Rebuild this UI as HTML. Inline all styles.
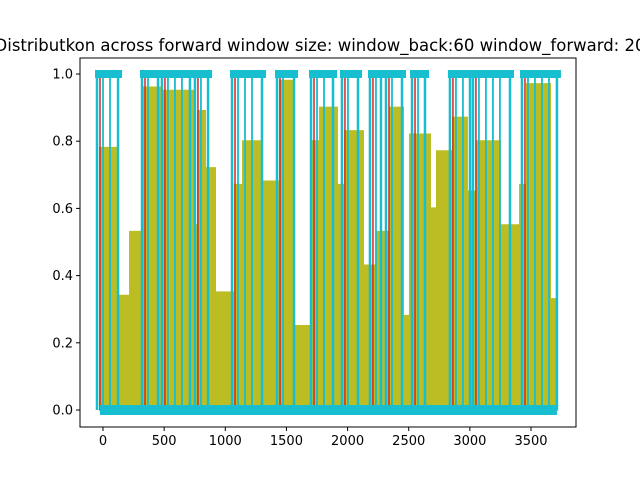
<!DOCTYPE html>
<html><head><meta charset="utf-8"><style>
body{margin:0;background:#fff;}
svg{display:block;font-family:"DejaVu Sans","Liberation Sans",sans-serif;}
</style></head><body>
<svg id="chart" width="640" height="480">
<rect width="640" height="480" fill="#fff"/>
<text x="320" y="51" font-size="16.5" text-anchor="middle">Distributkon across forward window size: window_back:60 window_forward: 20</text>
<g id="plot"></g>
<g id="axes"></g>
</svg>
<script>
const oliveX=[-25,114,221,303,327,466,491,736,777,834,916,1079,1145,1300,1447,1554,1717,1774,1913,1979,2126,2240,2347,2453,2510,2674,2731,2862,2976,3058,3246,3410,3467,3655,3712];
const oliveY=[0.78,0.34,0.53,0.2,0.96,0.52,0.95,0.55,0.89,0.72,0.35,0.67,0.8,0.68,0.98,0.25,0.8,0.9,0.67,0.83,0.43,0.53,0.9,0.28,0.82,0.6,0.77,0.87,0.65,0.8,0.55,0.67,0.97,0.33];
const pulseStart=[-49,319,482,752,1055,1423,1701,1954,2183,2314,2527,2837,3025,3426];
const pulseEnd=[123,450,711,859,1300,1562,1881,2085,2273,2445,2633,3001,3328,3712];
const xTicks=[0,500,1000,1500,2000,2500,3000,3500];
const yTicks=[0.0,0.2,0.4,0.6,0.8,1.0];
const L=80,R=576,T=58,B=427;
const X=v=>103+v*0.12229;
const Y=v=>410-v*336;
const NS="http://www.w3.org/2000/svg";
const plot=document.getElementById('plot'),axes=document.getElementById('axes');
function mk(tag,at,parent){const e=document.createElementNS(NS,tag);for(const k in at)e.setAttribute(k,at[k]);parent.appendChild(e);return e;}
let pk=mk('rect',{x:X(-20),y:Y(0.08),width:X(3700)-X(-20),height:Y(0)-Y(0.08),fill:'#e377c2',opacity:0.55},plot);


let d='M'+X(oliveX[0])+' '+Y(0);
for(let i=0;i<oliveY.length;i++){d+=' L'+X(oliveX[i])+' '+Y(oliveY[i])+' L'+X(oliveX[i+1])+' '+Y(oliveY[i]);}
d+=' L'+X(oliveX[oliveX.length-1])+' '+Y(0)+' Z';
let ol=mk('path',{d:d,fill:'#bcbd22',stroke:'#bcbd22','stroke-width':2},plot);


for(let i=0;i<pulseStart.length;i++){
  const a=X(pulseStart[i]),b=X(pulseEnd[i]);
  let r1=mk('line',{x1:a+3,y1:Y(0),x2:a+3,y2:Y(1),stroke:'#d62728','stroke-width':1.5},plot);
  
  
  let p=mk('path',{d:`M${a} ${Y(0)} L${a} ${Y(1)} L${b} ${Y(1)} L${b} ${Y(0)}`,fill:'none',stroke:'#17becf','stroke-width':2.5},plot);
  
  
  for(let x=a+6;x<b-4;x+=7){
    let q=mk('line',{x1:x,y1:Y(0),x2:x,y2:Y(1),stroke:'#17becf','stroke-width':1.8},plot);
    
    
  }
  let m=mk('rect',{x:a-2,y:Y(1)-4,width:b-a+6,height:8,fill:'#17becf'},plot);
  
  
}
let base=mk('rect',{x:X(-25),y:Y(0)-5,width:X(3712)-X(-25),height:10,fill:'#17becf'},plot);


let fr=mk('rect',{x:L,y:T,width:R-L,height:B-T,fill:'none',stroke:'#000','stroke-width':1},axes);


xTicks.forEach(v=>{
  let t=mk('line',{x1:X(v),y1:B,x2:X(v),y2:B+4,stroke:'#000'},axes);
  
  
  let l=mk('text',{x:X(v),y:B+18,'font-size':13,'text-anchor':'middle'},axes);l.textContent=v;
  
  
});
yTicks.forEach(v=>{
  let t=mk('line',{x1:L-4,y1:Y(v),x2:L,y2:Y(v),stroke:'#000'},axes);
  
  
  let l=mk('text',{x:L-7,y:Y(v)+4.5,'font-size':13,'text-anchor':'end'},axes);l.textContent=v.toFixed(1);
  
  
});
</script>
</body></html>
